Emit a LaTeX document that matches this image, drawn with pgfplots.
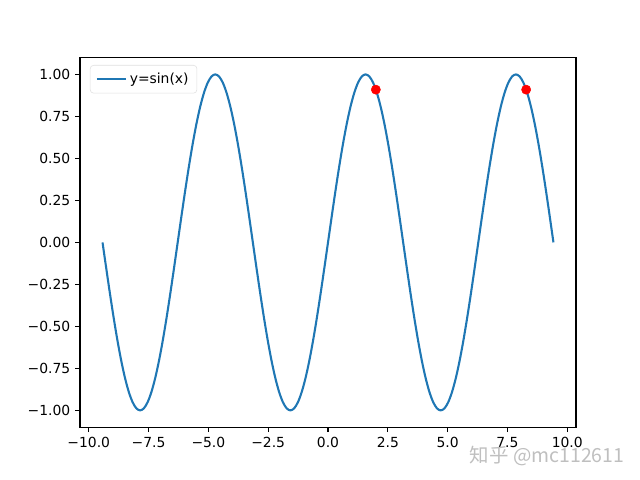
\documentclass[border=0pt]{standalone}
\usepackage{pgfplots}
\pgfplotsset{compat=1.18}
\usepackage{fontspec}
\setmainfont{DejaVu Sans}
\newfontfamily\cjk{Noto Sans CJK SC}
\definecolor{mplblue}{HTML}{1F77B4}

\begin{document}
\begin{tikzpicture}
\path (0,0) rectangle (460.8pt,345.6pt);
\begin{axis}[
  at={(57.6pt,38.016pt)}, anchor=south west,
  scale only axis, width=357.12pt, height=266.11pt,
  xmin=-10.367, xmax=10.367, ymin=-1.1, ymax=1.1,
  xtick={-10,-7.5,-5,-2.5,0,2.5,5,7.5,10},
  xticklabels={−10.0,−7.5,−5.0,−2.5,0.0,2.5,5.0,7.5,10.0},
  ytick={-1,-0.75,-0.5,-0.25,0,0.25,0.5,0.75,1},
  yticklabels={−1.00,−0.75,−0.50,−0.25,0.00,0.25,0.50,0.75,1.00},
  tick align=outside, tick pos=left,
  major tick length=3.5pt,
  every tick/.style={black, line width=0.8pt},
  axis line style={line width=0.8pt},
  tick label style={font=\fontsize{10}{12}\selectfont},
  legend style={font=\fontsize{10}{12}\selectfont, draw=gray!25, rounded corners=2.5pt,
    at={(0.02,0.98)}, anchor=north west, inner xsep=4pt, inner ysep=3.5pt},
  legend cell align=left,
  legend image code/.code={\draw[#1] (0pt,0pt) -- (21pt,0pt);},
]
\addplot[only marks, mark=*, mark size=3.3pt, color=red, forget plot] coordinates {(2,0.9093)(8.2832,0.9093)};
\addplot[color=mplblue, line width=1.5pt, smooth, tension=0.5] coordinates {
(-9.4248,0)(-9.2677,-0.1564)(-9.1106,-0.3090)(-8.9535,-0.4540)(-8.7965,-0.5878)(-8.6394,-0.7071)(-8.4823,-0.8090)(-8.3252,-0.8910)(-8.1681,-0.9511)(-8.0111,-0.9877)
(-7.8540,-1)(-7.6969,-0.9877)(-7.5398,-0.9511)(-7.3827,-0.8910)(-7.2257,-0.8090)(-7.0686,-0.7071)(-6.9115,-0.5878)(-6.7544,-0.4540)(-6.5973,-0.3090)(-6.4403,-0.1564)
(-6.2832,0)(-6.1261,0.1564)(-5.9690,0.3090)(-5.8119,0.4540)(-5.6549,0.5878)(-5.4978,0.7071)(-5.3407,0.8090)(-5.1836,0.8910)(-5.0265,0.9511)(-4.8695,0.9877)
(-4.7124,1)(-4.5553,0.9877)(-4.3982,0.9511)(-4.2412,0.8910)(-4.0841,0.8090)(-3.9270,0.7071)(-3.7699,0.5878)(-3.6128,0.4540)(-3.4558,0.3090)(-3.2987,0.1564)
(-3.1416,0)(-2.9845,-0.1564)(-2.8274,-0.3090)(-2.6704,-0.4540)(-2.5133,-0.5878)(-2.3562,-0.7071)(-2.1991,-0.8090)(-2.0420,-0.8910)(-1.8850,-0.9511)(-1.7279,-0.9877)
(-1.5708,-1)(-1.4137,-0.9877)(-1.2566,-0.9511)(-1.0996,-0.8910)(-0.9425,-0.8090)(-0.7854,-0.7071)(-0.6283,-0.5878)(-0.4712,-0.4540)(-0.3142,-0.3090)(-0.1571,-0.1564)
(0,0)(0.1571,0.1564)(0.3142,0.3090)(0.4712,0.4540)(0.6283,0.5878)(0.7854,0.7071)(0.9425,0.8090)(1.0996,0.8910)(1.2566,0.9511)(1.4137,0.9877)
(1.5708,1)(1.7279,0.9877)(1.8850,0.9511)(2.0420,0.8910)(2.1991,0.8090)(2.3562,0.7071)(2.5133,0.5878)(2.6704,0.4540)(2.8274,0.3090)(2.9845,0.1564)
(3.1416,0)(3.2987,-0.1564)(3.4558,-0.3090)(3.6128,-0.4540)(3.7699,-0.5878)(3.9270,-0.7071)(4.0841,-0.8090)(4.2412,-0.8910)(4.3982,-0.9511)(4.5553,-0.9877)
(4.7124,-1)(4.8695,-0.9877)(5.0265,-0.9511)(5.1836,-0.8910)(5.3407,-0.8090)(5.4978,-0.7071)(5.6549,-0.5878)(5.8119,-0.4540)(5.9690,-0.3090)(6.1261,-0.1564)
(6.2832,0)(6.4403,0.1564)(6.5973,0.3090)(6.7544,0.4540)(6.9115,0.5878)(7.0686,0.7071)(7.2257,0.8090)(7.3827,0.8910)(7.5398,0.9511)(7.6969,0.9877)
(7.8540,1)(8.0111,0.9877)(8.1681,0.9511)(8.3252,0.8910)(8.4823,0.8090)(8.6394,0.7071)(8.7965,0.5878)(8.9535,0.4540)(9.1106,0.3090)(9.2677,0.1564)
(9.4248,0)};
\addlegendentry{y=sin(x)}
\end{axis}
\node[anchor=east, text=gray!50, font=\cjk\fontsize{14}{16}\selectfont] at (453pt,17.5pt) {知乎 @mc112611};
\end{tikzpicture}
\end{document}
